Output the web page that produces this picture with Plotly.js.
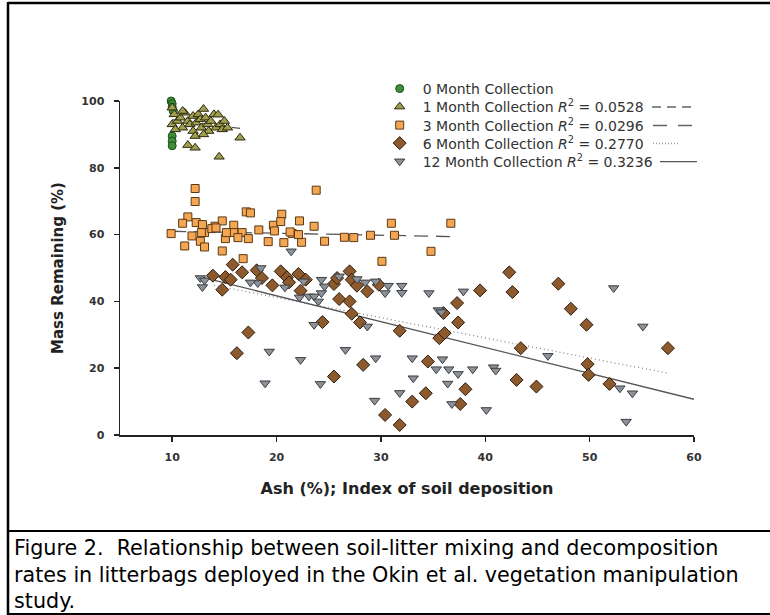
<!DOCTYPE html>
<html>
<head>
<meta charset="utf-8">
<script src="https://cdn.plot.ly/plotly-3.0.1.min.js"></script>
<style>
  html, body { margin: 0; padding: 0; background: #fff; }
  #chart { width: 770px; height: 615px; }
</style>
</head>
<body>
<div id="chart"></div>
<script>
// ---------------- DATA ----------------
const m0_x = [9.9, 10.0, 10.0, 10.1, 10.0, 10.0, 10.0];
const m0_y = [100, 99.2, 98.2, 97.0, 89.5, 88.0, 86.6];

const m1_x = [10.0, 10.2, 10.0, 10.5, 10.8, 11.0, 11.2, 11.5, 11.7, 12.0, 12.0, 12.3, 12.5, 12.7, 12.8, 13.0, 13.2, 13.4, 13.5, 13.7, 14.0, 14.2, 14.4, 14.6, 14.8, 15.0, 15.3, 10.3, 11.0, 12.2, 13.0, 11.5, 12.2, 14.5, 16.5];
const m1_y = [98.0, 96.0, 93.0, 94.0, 95.0, 92.0, 96.5, 94.0, 93.0, 95.5, 91.0, 93.5, 96.0, 94.5, 92.0, 97.6, 95.0, 93.0, 91.0, 94.0, 96.0, 92.0, 95.9, 93.0, 91.5, 94.0, 92.0, 91.5, 97.0, 89.5, 90.0, 86.8, 86.0, 83.3, 89.0];

const m3_x = [9.9, 11.2, 11.5, 12.2, 12.2, 12.3, 12.9, 13.1, 12.7, 13.1, 14.1, 14.8, 14.8, 15.1, 15.9, 15.9, 16.7, 16.8, 17.1, 17.5, 17.3, 18.3, 19.2, 19.7, 20.5, 20.4, 20.7, 21.5, 22.2, 22.4, 23.6, 23.8, 24.6, 11.0, 11.9, 12.8, 13.8, 14.2, 15.2, 16.3, 19.8, 21.3, 22.1, 26.5, 27.4, 29.0, 30.1, 31.0, 31.3, 34.8, 36.7];
const m3_y = [60.3, 56.6, 65.3, 69.9, 73.8, 63.6, 63.0, 60.6, 58.0, 56.3, 62.5, 64.1, 55.1, 58.8, 62.8, 60.6, 60.6, 52.8, 66.8, 66.5, 58.8, 61.4, 57.9, 62.8, 66.1, 63.9, 57.6, 60.3, 64.1, 57.7, 62.5, 73.3, 58.0, 63.4, 59.6, 60.6, 61.8, 62.0, 60.6, 59.1, 61.1, 60.8, 60.0, 59.2, 59.1, 59.8, 52.0, 63.4, 59.8, 55.0, 63.4];

const m6_x = [14.8, 13.9, 15.1, 15.6, 15.8, 16.7, 17.3, 18.1, 18.6, 19.6, 20.4, 21.0, 21.2, 22.1, 22.3, 22.8, 24.4, 25.5, 25.8, 25.5, 27.0, 27.2, 27.7, 26.0, 27.0, 27.2, 28.0, 28.3, 28.7, 29.8, 30.4, 31.8, 31.8, 33.0, 34.3, 34.5, 35.6, 36.1, 36.0, 37.3, 37.4, 37.6, 38.1, 39.5, 42.3, 42.6, 43.4, 43.0, 44.9, 47.0, 48.2, 49.7, 49.8, 49.9, 51.9, 57.5, 16.2];
const m6_y = [43.5, 47.7, 47.3, 46.5, 51.0, 48.7, 30.7, 49.3, 47.0, 44.8, 49.0, 47.2, 45.7, 48.2, 43.2, 46.5, 33.8, 45.2, 47.0, 17.5, 49.0, 46.5, 44.7, 40.7, 40.0, 36.3, 33.7, 21.0, 43.0, 45.0, 6.0, 3.0, 31.2, 10.0, 12.5, 22.0, 29.0, 30.5, 36.5, 39.5, 33.7, 9.3, 13.7, 43.3, 48.7, 42.8, 26.0, 16.5, 14.5, 45.3, 37.8, 33.0, 21.2, 18.0, 15.3, 26.0, 24.5];

const m12_x = [12.7, 12.9, 13.1, 18.5, 18.2, 17.5, 20.8, 21.4, 22.6, 22.2, 23.1, 23.6, 24.0, 23.6, 24.3, 24.6, 24.3, 26.0, 27.7, 28.5, 29.5, 30.4, 30.7, 32.0, 32.0, 34.6, 35.5, 35.8, 26.6, 28.7, 19.3, 22.3, 18.9, 24.2, 29.5, 29.4, 31.8, 33.0, 33.1, 35.9, 35.3, 36.5, 36.4, 37.9, 37.4, 36.8, 38.8, 40.8, 41.0, 40.1, 46.0, 52.3, 55.1, 52.9, 54.1, 53.5];
const m12_y = [47.0, 44.3, 46.3, 50.0, 45.5, 45.7, 44.2, 55.0, 46.0, 41.2, 41.5, 41.5, 40.0, 33.0, 46.5, 44.5, 42.5, 47.5, 46.7, 45.7, 46.0, 42.5, 44.7, 44.7, 42.6, 42.5, 37.4, 36.8, 25.5, 32.5, 25.0, 22.5, 15.5, 15.3, 23.0, 10.3, 12.6, 23.0, 17.0, 22.7, 19.7, 19.7, 15.4, 43.0, 18.3, 9.3, 19.7, 20.3, 19.3, 7.5, 23.7, 44.0, 32.5, 14.0, 12.5, 4.0];

// fitted regression lines (end points)
const fit1_x = [10, 16.5],  fit1_y = [94.4, 91.8];
const fit3_x = [10, 37],    fit3_y = [61.0, 59.4];
const fit6_x = [14, 57.5],  fit6_y = [44.8, 18.5];
const fit12_x = [13, 60],   fit12_y = [47.1, 10.7];

const seriesNames = [
  '0 Month Collection',
  '1 Month Collection <i>R</i><sup>2</sup> = 0.0528',
  '3 Month Collection <i>R</i><sup>2</sup> = 0.0296',
  '6 Month Collection <i>R</i><sup>2</sup> = 0.2770',
  '12 Month Collection <i>R</i><sup>2</sup> = 0.3236'
];
const xTicks = [10, 20, 30, 40, 50, 60];
const yTicks = [0, 20, 40, 60, 80, 100];
const captionLines = [
  'Figure 2.\u00a0 Relationship between soil-litter mixing and decomposition',
  'rates in litterbags deployed in the Okin et al. vegetation manipulation',
  'study.'
];

// ---------------- LAYOUT HELPERS ----------------
const FW = 770, FH = 615, L = 120, T = 101, W = 574, H = 334;
const px = v => (v - L) / W;          // pixel x -> paper x
const py = v => (T + H - v) / H;      // pixel y -> paper y

const fitColor = '#555';
const lineTraces = [
  {x: fit1_x, y: fit1_y, dash: '9px,6px', color: fitColor},
  {x: fit3_x, y: fit3_y, dash: '14px,8px', color: fitColor},
  {x: fit6_x, y: fit6_y, dash: '1px,3px', color: '#888'},
  {x: fit12_x, y: fit12_y, dash: 'solid', color: fitColor}
].map(d => ({
  type: 'scatter', mode: 'lines', x: d.x, y: d.y, showlegend: false, hoverinfo: 'skip',
  line: {color: d.color, width: 1.3, dash: d.dash}
}));

const markerDefs = [
  {x: m0_x, y: m0_y, symbol: 'circle', size: 8, fill: '#3f8e3a', edge: '#1d4d1a'},
  {x: m1_x, y: m1_y, symbol: 'triangle-up', size: 9, fill: '#a09d4c', edge: '#2a2a10'},
  {x: m3_x, y: m3_y, symbol: 'square', size: 8, fill: '#f4a652', edge: '#5a3a16'},
  {x: m6_x, y: m6_y, symbol: 'diamond', size: 10, fill: '#8c5a2c', edge: '#2e1d0c'},
  {x: m12_x, y: m12_y, symbol: 'triangle-down', size: 9, fill: '#8d9298', edge: '#3a3e42'}
];
const legendRowsPx = [89, 107, 125.5, 143.5, 161.7];
const markerTraces = markerDefs.map((d, i) => ({
  type: 'scatter', mode: 'markers', x: d.x, y: d.y, name: seriesNames[i],
  legend: i === 0 ? 'legend' : 'legend' + (i + 1),
  cliponaxis: false,
  marker: {symbol: d.symbol, size: d.size, color: d.fill, line: {color: d.edge, width: 1}}
}));

const legendFont = {family: 'DejaVu Sans, Arial, sans-serif', size: 14, color: '#333'};
const layout = {
  width: FW, height: FH,
  margin: {l: L, r: FW - L - W, t: T, b: FH - T - H, pad: 0, autoexpand: false},
  paper_bgcolor: '#fff', plot_bgcolor: '#fff',
  font: {family: 'DejaVu Sans, Arial, sans-serif', color: '#222'},
  xaxis: {
    range: [5, 60], tickvals: xTicks, ticktext: xTicks.map(String),
    showgrid: false, zeroline: false, showline: true, linecolor: '#222', linewidth: 1.5,
    ticks: 'outside', ticklen: 5, tickwidth: 1.5, tickcolor: '#222',
    ticklabelstandoff: 6, automargin: false,
    tickfont: {family: 'DejaVu Sans, Arial, sans-serif', size: 11, color: '#333', weight: 'bold'},
    title: {text: 'Ash (%); Index of soil deposition', standoff: 20,
            font: {family: 'DejaVu Sans, Arial, sans-serif', size: 16, color: '#222', weight: 'bold'}}
  },
  yaxis: {
    range: [0, 100], tickvals: yTicks, ticktext: yTicks.map(String),
    showgrid: false, zeroline: false, showline: true, linecolor: '#222', linewidth: 1.5,
    ticks: 'outside', ticklen: 5, tickwidth: 1.5, tickcolor: '#222',
    ticklabelstandoff: 7, automargin: false,
    tickfont: {family: 'DejaVu Sans, Arial, sans-serif', size: 11, color: '#333', weight: 'bold'},
    title: {text: 'Mass Remaining (%)', standoff: 14,
            font: {family: 'DejaVu Sans, Arial, sans-serif', size: 15, color: '#222', weight: 'bold'}}
  },
  shapes: [
    // figure frame
    {type: 'line', xref: 'paper', yref: 'paper', x0: px(8), x1: px(772), y0: py(3), y1: py(3), line: {color: '#000', width: 2.5}},
    {type: 'line', xref: 'paper', yref: 'paper', x0: px(8), x1: px(8), y0: py(2), y1: py(616), line: {color: '#000', width: 2.5}},
    {type: 'line', xref: 'paper', yref: 'paper', x0: px(8), x1: px(772), y0: py(531), y1: py(531), line: {color: '#000', width: 2}},
    {type: 'line', xref: 'paper', yref: 'paper', x0: px(8), x1: px(772), y0: py(614), y1: py(614), line: {color: '#000', width: 2}},
    // legend line samples
    {type: 'line', xref: 'paper', yref: 'paper', x0: px(652), x1: px(693), y0: py(legendRowsPx[1]), y1: py(legendRowsPx[1]), line: {color: '#666', width: 1.3, dash: '9px,6px'}},
    {type: 'line', xref: 'paper', yref: 'paper', x0: px(653), x1: px(692), y0: py(legendRowsPx[2]), y1: py(legendRowsPx[2]), line: {color: '#666', width: 1.3, dash: '14px,11px'}},
    {type: 'line', xref: 'paper', yref: 'paper', x0: px(653), x1: px(678), y0: py(legendRowsPx[3]), y1: py(legendRowsPx[3]), line: {color: '#999', width: 1.3, dash: '1px,2px'}},
    {type: 'line', xref: 'paper', yref: 'paper', x0: px(660), x1: px(697), y0: py(legendRowsPx[4]), y1: py(legendRowsPx[4]), line: {color: '#555', width: 1.3}}
  ],
  annotations: captionLines.map((t, i) => ({
    xref: 'paper', yref: 'paper', x: px(12), y: py([548, 575, 601][i]),
    xanchor: 'left', yanchor: 'middle', showarrow: false, align: 'left', text: t,
    font: {family: 'DejaVu Sans, Arial, sans-serif', size: 20.7, color: '#000'}
  }))
};
legendRowsPx.forEach((r, i) => {
  layout[i === 0 ? 'legend' : 'legend' + (i + 1)] = {
    xref: 'paper', yref: 'paper', x: px(376.7), y: py(r),
    xanchor: 'left', yanchor: 'middle', bgcolor: 'rgba(0,0,0,0)', borderwidth: 0,
    itemwidth: 36, font: legendFont
  };
});

Plotly.newPlot('chart', lineTraces.concat(markerTraces), layout, {displayModeBar: false, staticPlot: true});
</script>
</body>
</html>
